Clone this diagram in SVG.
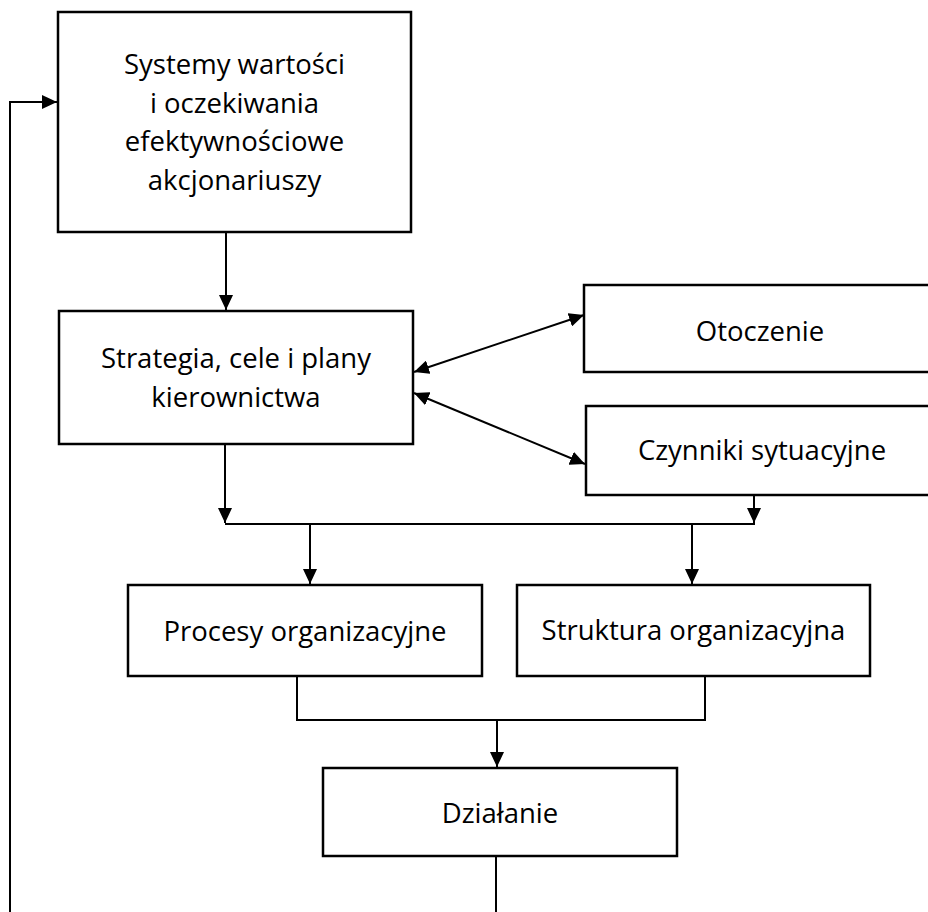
<svg xmlns="http://www.w3.org/2000/svg" width="928" height="912" viewBox="0 0 928 912">
<style>
.box{fill:#fff;stroke:#000;stroke-width:2.5}
.lbl{font-family:"Open Sans","Liberation Sans",sans-serif;font-size:27.5px;fill:#000;text-anchor:middle}
.ln{fill:none;stroke:#000;stroke-width:2}
.arr{marker-end:url(#ah)}
.dbl{marker-start:url(#ah);marker-end:url(#ah)}
</style>
<defs>
<marker id="ah" markerUnits="userSpaceOnUse" markerWidth="16" markerHeight="14" refX="15" refY="7" orient="auto-start-reverse" viewBox="0 0 16 14">
<path d="M0,0 L15,7 L0,14 z" fill="#000"/>
</marker>
</defs>
<rect width="928" height="912" fill="#fff"/>
<g id="connectors">
<path class="ln arr" d="M496,856 V940 H10 V102 H57"/>
<path class="ln arr" d="M226,232 V310"/>
<path class="ln arr" d="M225,444 V523"/>
<path class="ln" d="M225,524 H755"/>
<path class="ln arr" d="M754,495 V523"/>
<path class="ln arr" d="M310,524 V584"/>
<path class="ln arr" d="M692,524 V584"/>
<path class="ln" d="M297,676 V720 H705 V676"/>
<path class="ln arr" d="M497,720 V767"/>
<path class="ln dbl" d="M414,372 L584,315"/>
<path class="ln dbl" d="M414,393 L585,464"/>
</g>
<g id="n1">
<rect class="box" x="58" y="12" width="353" height="220"/>
<text class="lbl" x="234.5" y="74">Systemy wartości</text>
<text class="lbl" x="234.5" y="112.5">i oczekiwania</text>
<text class="lbl" x="234.5" y="151">efektywnościowe</text>
<text class="lbl" x="234.5" y="189.5">akcjonariuszy</text>
</g>
<g id="n2">
<rect class="box" x="59" y="311" width="354" height="133"/>
<text class="lbl" x="236" y="368">Strategia, cele i plany</text>
<text class="lbl" x="236" y="407">kierownictwa</text>
</g>
<g id="n3">
<rect class="box" x="584" y="285" width="356" height="87"/>
<text class="lbl" x="760" y="341">Otoczenie</text>
</g>
<g id="n4">
<rect class="box" x="586" y="406" width="354" height="89"/>
<text class="lbl" x="762" y="460">Czynniki sytuacyjne</text>
</g>
<g id="n5">
<rect class="box" x="128" y="585" width="354" height="91"/>
<text class="lbl" x="305" y="641">Procesy organizacyjne</text>
</g>
<g id="n6">
<rect class="box" x="517" y="585" width="353" height="91"/>
<text class="lbl" x="693.5" y="640">Struktura organizacyjna</text>
</g>
<g id="n7">
<rect class="box" x="323" y="768" width="354" height="88"/>
<text class="lbl" x="500" y="823">Działanie</text>
</g>
</svg>
